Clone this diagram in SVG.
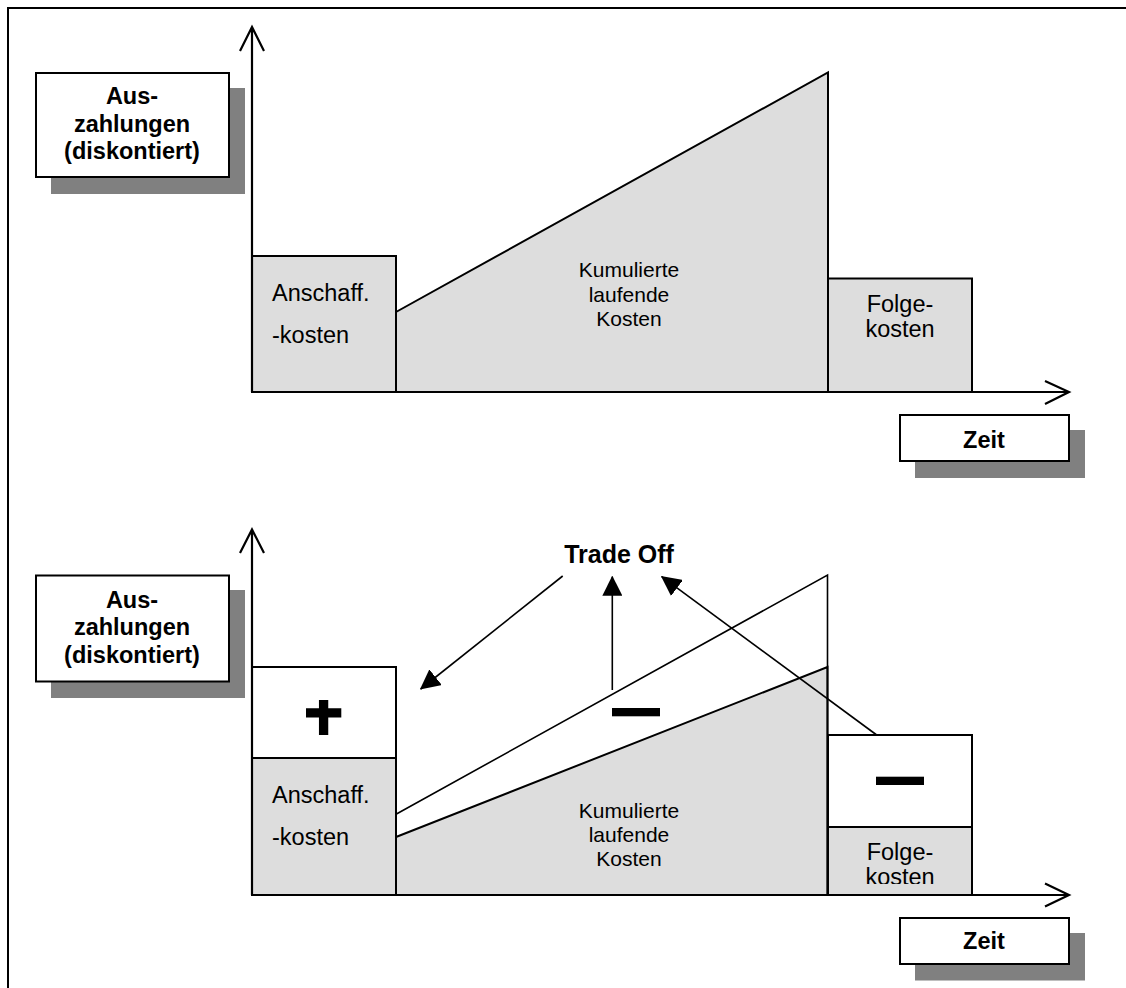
<svg xmlns="http://www.w3.org/2000/svg" width="1126" height="988" viewBox="0 0 1126 988">
<style>
text{font-family:"Liberation Sans",Arial,sans-serif;fill:#000}
.lbl{font-weight:bold;font-size:23.5px;text-anchor:middle}
.n{font-size:23.5px}
.sm{font-size:21px;text-anchor:middle}
.box{fill:#fff;stroke:#000;stroke-width:2}
.sh{fill:#808080}
.gray{fill:#DDDDDD;stroke:#000;stroke-width:2}
.wbox{fill:#fff;stroke:#000;stroke-width:2}
.axis{fill:none;stroke:#000;stroke-width:2.2}
.ln{fill:none;stroke:#000;stroke-width:1.6}
.arr{fill:none;stroke:#000;stroke-width:1.6;marker-end:url(#ah)}
</style>
<defs>
<marker id="ah" viewBox="0 0 20 20" refX="19" refY="10" markerWidth="20" markerHeight="20" markerUnits="userSpaceOnUse" orient="auto">
<path d="M0,0 L20,10 L0,20 z" fill="#000"/>
</marker>
<clipPath id="clipF"><rect x="828" y="827" width="144" height="57"/></clipPath>
</defs>
<rect width="1126" height="988" fill="#fff"/>
<g id="frame"><path d="M8,988 V8 H1126" fill="none" stroke="#000" stroke-width="2"/></g>

<!-- Upper chart -->
<g id="upper-ylabel">
<rect class="sh" x="51" y="88" width="194" height="106"/>
<rect class="box" x="36" y="73" width="193" height="104"/>
<text class="lbl" x="132" y="104">Aus-</text>
<text class="lbl" x="132" y="132">zahlungen</text>
<text class="lbl" x="132" y="159">(diskontiert)</text>
</g>
<g id="upper-anschaff">
<rect class="gray" x="252" y="256" width="144" height="136"/>
<text class="n" x="272" y="301">Anschaff.</text>
<text class="n" x="272" y="343">-kosten</text>
</g>
<g id="upper-laufend">
<path class="gray" d="M396,312 L828,72.5 L828,392 L396,392 Z"/>
<text class="sm" x="629" y="277">Kumulierte</text>
<text class="sm" x="629" y="301.5">laufende</text>
<text class="sm" x="629" y="326">Kosten</text>
</g>
<g id="upper-folge">
<rect class="gray" x="828" y="278.5" width="144" height="113.5"/>
<text class="n" x="900" y="312" text-anchor="middle">Folge-</text>
<text class="n" x="900" y="337" text-anchor="middle">kosten</text>
</g>
<g id="upper-axes">
<path class="axis" d="M252,392 V27 M240,51 L252,27 L264,51"/>
<path class="axis" d="M252,392 H1069 M1045,381 L1069,392 L1045,404"/>
</g>
<g id="upper-zeit">
<rect class="sh" x="915" y="430" width="170" height="48"/>
<rect class="box" x="900" y="415" width="169" height="46"/>
<text class="lbl" x="984" y="448">Zeit</text>
</g>

<!-- Lower chart -->
<g id="lower-ylabel">
<rect class="sh" x="51" y="590" width="194" height="108"/>
<rect class="box" x="36" y="575.5" width="193" height="106"/>
<text class="lbl" x="132" y="607.5">Aus-</text>
<text class="lbl" x="132" y="635">zahlungen</text>
<text class="lbl" x="132" y="663">(diskontiert)</text>
</g>
<g id="lower-anschaff">
<rect class="wbox" x="252" y="667" width="144" height="91"/>
<rect class="gray" x="252" y="758" width="144" height="137"/>
<path d="M306,712.9 H341.3 M323.6,700 V735" stroke="#000" stroke-width="9.3" fill="none"/>
<text class="n" x="272" y="803">Anschaff.</text>
<text class="n" x="272" y="844.5">-kosten</text>
</g>
<g id="lower-laufend">
<path class="gray" d="M396,837 L827.5,667 L827.5,895 L396,895 Z"/>
<path class="ln" d="M396,814.3 L827.5,575 V895"/>
<rect x="612" y="708" width="48" height="8.3" fill="#000"/>
<text class="sm" x="629" y="817.7">Kumulierte</text>
<text class="sm" x="629" y="841.7">laufende</text>
<text class="sm" x="629" y="865.7">Kosten</text>
</g>
<g id="lower-folge">
<rect class="wbox" x="828" y="735" width="144" height="92"/>
<rect class="gray" x="828" y="827" width="144" height="68"/>
<rect x="876" y="776.7" width="48" height="8.3" fill="#000"/>
<text class="n" x="900" y="860" text-anchor="middle">Folge-</text>
<text class="n" x="900" y="885" text-anchor="middle" clip-path="url(#clipF)">kosten</text>
</g>
<g id="lower-axes">
<path class="axis" d="M252,895 V529.5 M240,553 L252,529.5 L264,553"/>
<path class="axis" d="M252,895 H1069 M1045,883.5 L1069,895 L1045,906.5"/>
</g>
<g id="lower-zeit">
<rect class="sh" x="915" y="933" width="170" height="47.5"/>
<rect class="box" x="900" y="918" width="169" height="46"/>
<text class="lbl" x="984" y="949">Zeit</text>
</g>
<g id="tradeoff">
<text x="619" y="563" font-weight="bold" font-size="25" text-anchor="middle">Trade Off</text>
</g>
<g id="connectors">
<path class="arr" d="M562.7,576 L420.7,689"/>
<path class="arr" d="M612.3,690 V576.7"/>
<path class="arr" d="M876.7,735 L661.7,576.7"/>
</g>
</svg>
